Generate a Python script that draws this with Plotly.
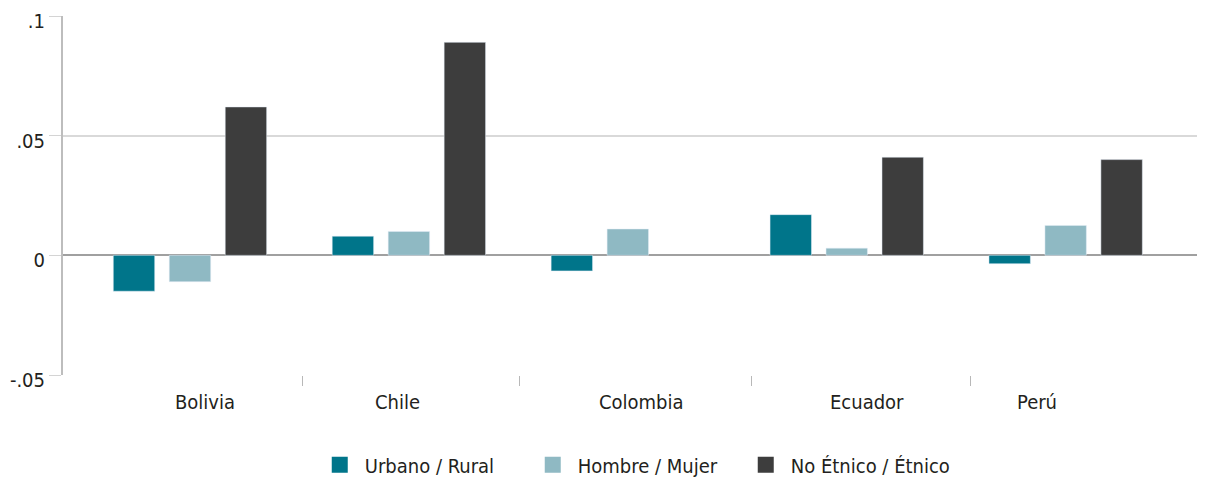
import plotly.graph_objects as go

countries = ['Bolivia', 'Chile', 'Colombia', 'Ecuador', 'Perú']
urbano_rural = [-0.015, 0.008, -0.0065, 0.017, -0.0035]
hombre_mujer = [-0.011, 0.010, 0.011, 0.003, 0.0125]
etnico = [0.062, 0.089, None, 0.041, 0.040]

series_names = ['Urbano / Rural', 'Hombre / Mujer', 'No Étnico / Étnico']
colors = ['#00758a', '#8fb9c3', '#3d3d3d']

y_ticks = [-0.05, 0, 0.05, 0.1]
y_labels = ['-.05', '0', '.05', '.1']

# where the original puts the country names and the separator ticks (axis units)
label_pos = [0.07, 0.948, 2.064, 3.093, 3.87]
sep_pos = [0.513, 1.506, 2.567, 3.565]

FONT = 'Liberation Sans Narrow, DejaVu Sans Condensed, Roboto, sans-serif'
TXT = '#231f20'

x = list(range(len(countries)))

fig = go.Figure()
for vals, name, c in zip([urbano_rural, hombre_mujer, etnico], series_names, colors):
    fig.add_trace(go.Bar(x=x, y=vals, name=name, marker_color=c, showlegend=False))
    # bigger square for the legend
    fig.add_trace(go.Scatter(x=[None], y=[None], mode='markers', name=name,
                             marker=dict(symbol='square', size=20, color=c)))

for xp, name in zip(label_pos, countries):
    fig.add_annotation(x=xp, xref='x', y=-0.037, yref='paper', yanchor='top',
                       text=name, showarrow=False, font=dict(size=20, color=TXT, family=FONT))

# page body has an 8px margin, so the figure is a bit smaller than the window
fig.update_layout(
    width=1203, height=473,
    margin=dict(l=55, r=14, t=8, b=106, autoexpand=False),
    plot_bgcolor='white',
    paper_bgcolor='white',
    barmode='group',
    bargap=0.233,
    bargroupgap=0.26,
    font=dict(family=FONT, size=20, color=TXT),
    legend=dict(
        orientation='h',
        x=0.222, xanchor='left',
        y=-0.25, yanchor='middle',
        font=dict(size=20, color=TXT),
        itemwidth=40,
        entrywidth=158,
        entrywidthmode='pixels',
        tracegroupgap=0,
    ),
    xaxis=dict(
        range=[-0.58, 4.6],
        tickvals=sep_pos,
        ticktext=['', '', '', ''],
        ticks='outside',
        ticklen=10,
        tickcolor='#b8b8b8',
        showgrid=False,
        showline=False,
        zeroline=False,
        automargin=False,
    ),
    yaxis=dict(
        range=[-0.05, 0.1],
        tickvals=y_ticks,
        ticktext=y_labels,
        ticks='outside',
        ticklen=12,
        tickcolor='#d4d4d4',
        ticklabelstandoff=0,
        ticklabelshift=5,
        ticklabeloverflow='allow',
        showgrid=True,
        gridcolor='#d9d9d9',
        gridwidth=1.5,
        zeroline=True,
        zerolinecolor='#a0a0a0',
        zerolinewidth=1.5,
        showline=True,
        linecolor='#bdbdbd',
        linewidth=2,
        automargin=False,
        tickfont=dict(size=20, color=TXT),
    ),
)

fig.write_html('out.html')
